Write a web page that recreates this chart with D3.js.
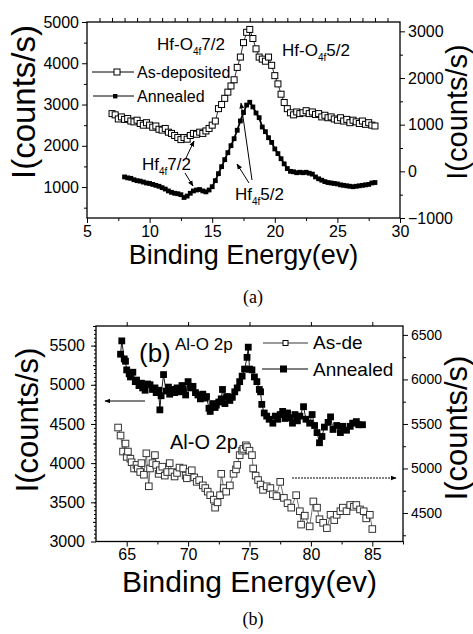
<!DOCTYPE html>
<html>
<head>
<meta charset="utf-8">
<script src="https://cdn.jsdelivr.net/npm/d3@7"></script>
<style>
  body { margin: 0; background: #fff; }
  svg { display: block; font-family: "Liberation Sans", Arial, sans-serif; }
  .axis path { display: none; }
  .axis line { stroke: #000; stroke-width: 1; }
  .axis text { fill: #000; }
</style>
</head>
<body>
<div id="chart"></div>
<script>
// Panel (a): Hf 4f region, As-deposited on left axis, Annealed on right axis
const hfAsDepE = [7.0, 7.25, 7.5, 7.75, 8.0, 8.25, 8.5, 8.75, 9.0, 9.25, 9.5, 9.75, 10.0, 10.25, 10.5, 10.75,
  11.0, 11.25, 11.5, 11.75, 12.0, 12.25, 12.5, 12.75, 13.0, 13.25, 13.5, 13.75, 14.0, 14.25, 14.5, 14.75,
  15.0, 15.25, 15.5, 15.75, 16.0, 16.25, 16.5, 16.75, 17.0, 17.25, 17.5, 17.75, 18.0, 18.25, 18.5, 18.75,
  19.0, 19.25, 19.5, 19.75, 20.0, 20.25, 20.5, 20.75, 21.0, 21.25, 21.5, 21.75, 22.0, 22.25, 22.5, 22.75,
  23.0, 23.25, 23.5, 23.75, 24.0, 24.25, 24.5, 24.75, 25.0, 25.25, 25.5, 25.75, 26.0, 26.25, 26.5, 26.75,
  27.0, 27.25, 27.5, 27.75, 28.0];
const hfAsDepI = [2780, 2750, 2650, 2700, 2640, 2660, 2600, 2580, 2620, 2540, 2500, 2560, 2500, 2450, 2480, 2400,
  2380, 2420, 2330, 2300, 2250, 2200, 2150, 2200, 2160, 2250, 2300, 2280, 2330, 2300, 2360, 2420,
  2500, 2600, 2900, 3000, 3150, 3300, 3450, 3600, 3900, 4150, 4500, 4750, 4820, 4600, 4350, 4150,
  4100, 4050, 4150, 3950, 3700, 3500, 3250, 3050, 2900, 2800, 2750, 2820, 2780, 2800, 2850, 2780,
  2820, 2760, 2780, 2700, 2740, 2680, 2700, 2650, 2620, 2680, 2600, 2640, 2560, 2620, 2580, 2540,
  2600, 2520, 2560, 2500, 2480];

const hfAnnE = [8.0, 8.25, 8.5, 8.75, 9.0, 9.25, 9.5, 9.75, 10.0, 10.25, 10.5, 10.75, 11.0, 11.25, 11.5, 11.75,
  12.0, 12.25, 12.5, 12.75, 13.0, 13.25, 13.5, 13.75, 14.0, 14.25, 14.5, 14.75, 15.0, 15.25, 15.5, 15.75,
  16.0, 16.25, 16.5, 16.75, 17.0, 17.25, 17.5, 17.75, 18.0, 18.25, 18.5, 18.75, 19.0, 19.25, 19.5, 19.75,
  20.0, 20.25, 20.5, 20.75, 21.0, 21.25, 21.5, 21.75, 22.0, 22.25, 22.5, 22.75, 23.0, 23.25, 23.5, 23.75,
  24.0, 24.25, 24.5, 24.75, 25.0, 25.25, 25.5, 25.75, 26.0, 26.25, 26.5, 26.75, 27.0, 27.25, 27.5, 27.75, 28.0];
const hfAnnI = [-120, -140, -150, -180, -200, -210, -230, -250, -260, -280, -300, -320, -350, -380, -420, -450,
  -470, -480, -500, -560, -530, -470, -420, -400, -390, -420, -440, -400, -330, -200, -50, 100,
  250, 400, 550, 700, 880, 1080, 1260, 1420, 1480, 1380, 1250, 1150, 950, 850, 720, 620,
  480, 380, 270, 160, 60, 0, -10, -30, -20, -30, -20, -40, -60, -120, -160, -190,
  -220, -240, -250, -260, -270, -290, -300, -310, -320, -330, -320, -310, -300, -290, -280, -250, -240];

// Panel (b): Al-O 2p region, Annealed on left axis, As-de on right axis
const alAnnE = [64.5, 64.6, 64.8, 64.9, 65.0, 65.2, 65.3, 65.5, 65.7, 65.8, 66.0, 66.2, 66.3, 66.5, 66.7, 66.9,
  67.1, 67.3, 67.4, 67.6, 67.7, 67.8, 68.0, 68.2, 68.4, 68.5, 68.7, 68.9, 69.1, 69.3, 69.5, 69.6,
  69.8, 70.0, 70.2, 70.4, 70.6, 70.8, 71.0, 71.2, 71.4, 71.5, 71.7, 71.8, 72.0, 72.2, 72.3, 72.5,
  72.7, 72.8, 73.0, 73.2, 73.4, 73.6, 73.8, 74.0, 74.2, 74.4, 74.6, 74.8, 74.9, 75.0, 75.2, 75.4,
  75.6, 75.8, 75.9, 76.0, 76.2, 76.4, 76.6, 76.9, 77.1, 77.3, 77.5, 77.7, 77.9, 78.1, 78.3, 78.5,
  78.7, 78.9, 79.1, 79.4, 79.6, 79.9, 80.1, 80.3, 80.5, 80.7, 80.9, 81.1, 81.4, 81.6, 81.8, 82.1,
  82.4, 82.6, 82.9, 83.2, 83.4, 83.7, 83.9, 84.2];
const alAnnI = [5390, 5560, 5330, 5300, 5190, 5140, 5100, 5160, 5040, 5060, 4990, 5020, 4960, 4930, 5010, 5000,
  4940, 4960, 4900, 4930, 4680, 4860, 5130, 4920, 4970, 4880, 4940, 4900, 4960, 4910, 4990, 4950,
  4870, 5040, 4960, 4980, 4900, 4870, 4820, 4880, 4830, 4850, 4700, 4660, 4760, 4710, 4740, 4780,
  4820, 4940, 4760, 4850, 4800, 4840, 4910, 4960, 5040, 5110, 5200, 5350, 5480, 5200, 5190, 5100,
  5040, 4940, 4910, 4750, 4640, 4600, 4560, 4510, 4600, 4560, 4620, 4660, 4570, 4640, 4580, 4510,
  4620, 4540, 4600, 4720, 4560, 4510, 4620, 4480, 4390, 4260, 4340, 4460, 4520, 4590, 4430, 4480,
  4390, 4470, 4420, 4470, 4510, 4530, 4490, 4490];

const alAsDeE = [64.3, 64.5, 64.7, 64.9, 65.0, 65.1, 65.3, 65.4, 65.6, 65.8, 65.9, 66.1, 66.2, 66.4, 66.6, 66.8,
  66.9, 67.1, 67.3, 67.4, 67.6, 67.7, 67.9, 68.1, 68.3, 68.5, 68.7, 68.9, 69.1, 69.3, 69.6, 69.8,
  69.9, 70.1, 70.3, 70.5, 70.7, 70.9, 71.2, 71.4, 71.6, 71.8, 72.1, 72.2, 72.4, 72.6, 72.7, 72.9,
  73.1, 73.4, 73.7, 73.9, 74.0, 74.2, 74.4, 74.5, 74.7, 74.8, 75.0, 75.2, 75.3, 75.5, 75.7, 75.9,
  76.1, 76.4, 76.7, 76.9, 77.2, 77.5, 77.8, 78.1, 78.4, 78.8, 79.1, 79.2, 79.5, 79.9, 80.2, 80.5,
  80.7, 81.0, 81.3, 81.6, 81.9, 82.1, 82.4, 82.6, 82.9, 83.2, 83.5, 83.7, 84.0, 84.3, 84.5, 84.8, 85.0];
const alAsDeI = [5460, 5370, 5190, 5280, 5130, 5190, 5110, 5070, 5000, 5040, 5000, 4960, 5060, 4930, 5170, 4800,
  5000, 5060, 5150, 5040, 4940, 4980, 5020, 4920, 4960, 5060, 4960, 4910, 4950, 5010, 5000, 4920,
  4890, 4960, 4980, 4900, 4850, 4870, 4810, 4780, 4740, 4700, 4650, 4560, 4620, 4700, 4940, 4780,
  4740, 4810, 4940, 4990, 5040, 5150, 5200, 5220, 5260, 5240, 5200, 5150, 5000, 4920, 4870, 4820,
  4760, 4800, 4780, 4710, 4690, 4850, 4670, 4610, 4560, 4700, 4520, 4370, 4470, 4350, 4630, 4560,
  4430, 4390, 4330, 4480, 4420, 4480, 4520, 4560, 4520, 4590, 4570, 4590, 4540, 4520, 4440, 4480, 4320];

// Tick values
const aXTicks = [5, 10, 15, 20, 25, 30];
const aLeftTicks = [1000, 2000, 3000, 4000, 5000];
const aRightTicks = [-1000, 0, 1000, 2000, 3000];
const bXTicks = [65, 70, 75, 80, 85];
const bLeftTicks = [3000, 3500, 4000, 4500, 5000, 5500];
const bRightTicks = [4500, 5000, 5500, 6000, 6500];

const svg = d3.select("#chart").append("svg")
  .attr("width", 473)
  .attr("height", 634);

// arrow head used by the annotations
svg.append("defs").append("marker")
  .attr("id", "head")
  .attr("viewBox", "0 0 10 10")
  .attr("refX", 9).attr("refY", 5)
  .attr("markerWidth", 6).attr("markerHeight", 6)
  .attr("orient", "auto-start-reverse")
  .append("path")
  .attr("d", "M0,1 L10,5 L0,9 Z")
  .attr("fill", "#000");

// draw ticks for one side, major with labels and minor without
function addAxis(axisFn, scale, major, minor, pos, opts) {
  const g = svg.append("g").attr("class", "axis").attr("transform", pos);
  g.call(axisFn(scale).tickValues(minor).tickSize(opts.minorSize || 3).tickFormat(""));
  const m = svg.append("g").attr("class", "axis").attr("transform", pos);
  const ax = axisFn(scale).tickValues(major).tickSize(opts.size || 5).tickPadding(opts.pad || 3);
  ax.tickFormat(opts.label === false ? "" : d3.format("d"));
  m.call(ax);
  m.selectAll("text").style("font-size", (opts.font || 16) + "px");
  return m;
}

function frame(x0, y0, x1, y1) {
  svg.append("rect")
    .attr("x", x0).attr("y", y0)
    .attr("width", x1 - x0).attr("height", y1 - y0)
    .attr("fill", "none").attr("stroke", "#000").attr("stroke-width", 1.3);
}

function arrow(x1, y1, x2, y2, dash) {
  svg.append("line")
    .attr("x1", x1).attr("y1", y1).attr("x2", x2).attr("y2", y2)
    .attr("stroke", "#000").attr("stroke-width", 1)
    .attr("stroke-dasharray", dash || null)
    .attr("marker-end", "url(#head)");
}

// ---------- panel (a) ----------
const xA = d3.scaleLinear().domain([5, 30]).range([87, 400]);
const yAL = d3.scaleLinear().domain([250, 5000]).range([218, 22]);
const yAR = d3.scaleLinear().domain([-1000, 3200]).range([218, 22]);

addAxis(d3.axisBottom, xA, aXTicks, [7.5, 12.5, 17.5, 22.5, 27.5], "translate(0,218)", {size: 5, font: 16, pad: 3});
addAxis(d3.axisBottom, xA, [], d3.range(6, 30), "translate(0,22)", {minorSize: -4, label: false});
addAxis(d3.axisLeft, yAL, aLeftTicks, [500, 1500, 2500, 3500, 4500], "translate(87,0)", {size: 5, font: 16});
addAxis(d3.axisRight, yAR, aRightTicks, [-500, 500, 1500, 2500], "translate(400,0)", {size: 5, font: 16});
frame(87, 22, 400, 218);

const lineA = d3.line();
const asDepA = hfAsDepE.map((e, i) => [xA(e), yAL(hfAsDepI[i])]);
const annA = hfAnnE.map((e, i) => [xA(e), yAR(hfAnnI[i])]);

svg.append("path").attr("d", lineA(asDepA)).attr("fill", "none").attr("stroke", "#000").attr("stroke-width", 0.8);
svg.append("path").attr("d", lineA(annA)).attr("fill", "none").attr("stroke", "#000").attr("stroke-width", 1.8);

svg.selectAll(".asdepA").data(asDepA).enter().append("rect")
  .attr("x", d => d[0] - 3).attr("y", d => d[1] - 3)
  .attr("width", 6).attr("height", 6)
  .attr("fill", "#fff").attr("stroke", "#000").attr("stroke-width", 1);
svg.selectAll(".annA").data(annA).enter().append("rect")
  .attr("x", d => d[0] - 2.4).attr("y", d => d[1] - 2.4)
  .attr("width", 4.8).attr("height", 4.8)
  .attr("fill", "#000");

// legend (a)
svg.append("line").attr("x1", 92).attr("x2", 134).attr("y1", 72).attr("y2", 72).attr("stroke", "#000");
svg.append("rect").attr("x", 114).attr("y", 69).attr("width", 6).attr("height", 6).attr("fill", "#fff").attr("stroke", "#000");
svg.append("text").attr("x", 137).attr("y", 78).style("font-size", "16px").text("As-deposited");
svg.append("line").attr("x1", 93).attr("x2", 134).attr("y1", 96).attr("y2", 96).attr("stroke", "#000");
svg.append("rect").attr("x", 113).attr("y", 94).attr("width", 4.4).attr("height", 4.4).attr("fill", "#000");
svg.append("text").attr("x", 137).attr("y", 102).style("font-size", "16px").text("Annealed");

// peak labels with subscript 4f
function peakLabel(x, y, pre, post) {
  const t = svg.append("text").attr("x", x).attr("y", y).style("font-size", "17px");
  t.append("tspan").text(pre);
  t.append("tspan").attr("dy", 5).style("font-size", "10px").text("4f");
  t.append("tspan").attr("dy", -5).text(post);
}
peakLabel(157, 50, "Hf-O", "7/2");
peakLabel(282, 56, "Hf-O", "5/2");
peakLabel(142, 170, "Hf", "7/2");
peakLabel(235, 200, "Hf", "5/2");

arrow(186, 158, 194, 141);
arrow(185, 173, 193, 186);
arrow(252, 180, 241, 103);
arrow(249, 183, 237, 164);

svg.append("text").attr("x", (87 + 400) / 2).attr("y", 264).attr("text-anchor", "middle")
  .style("font-size", "27px").text("Binding Energy(ev)");
svg.append("text").attr("transform", "translate(35,102) rotate(-90)").attr("text-anchor", "middle")
  .style("font-size", "33px").text("I(counts/s)");
svg.append("text").attr("transform", "translate(467,112) rotate(-90)").attr("text-anchor", "middle")
  .style("font-size", "29px").text("I(counts/s)");
svg.append("text").attr("x", 253).attr("y", 303).attr("text-anchor", "middle")
  .style("font-family", "'Liberation Serif', 'Times New Roman', serif").style("font-size", "18px").text("(a)");

// ---------- panel (b) ----------
const xB = d3.scaleLinear().domain([62.5, 87.5]).range([96, 403]);
const yBL = d3.scaleLinear().domain([3000, 5750]).range([541.5, 326]);
const yBR = d3.scaleLinear().domain([4180, 6600]).range([541.5, 326]);

addAxis(d3.axisBottom, xB, bXTicks, [67.5, 72.5, 77.5, 82.5, 87.5], "translate(0,541.5)", {size: 5, font: 16, pad: 2});
addAxis(d3.axisBottom, xB, [], bXTicks, "translate(0,326)", {minorSize: -4, label: false});
addAxis(d3.axisLeft, yBL, bLeftTicks, [3250, 3750, 4250, 4750, 5250, 5750], "translate(96,0)", {size: 5, font: 16, pad: 6});
addAxis(d3.axisLeft, yBL, [], d3.range(3050, 5750, 50), "translate(96,0)", {minorSize: 2, label: false});
addAxis(d3.axisRight, yBR, bRightTicks, [4250, 4750, 5250, 5750, 6250], "translate(403,0)", {size: 5, font: 14});
frame(96, 326, 403, 541.5);

const annB = alAnnE.map((e, i) => [xB(e), yBL(alAnnI[i])]);
const asDeB = alAsDeE.map((e, i) => [xB(e), yBR(alAsDeI[i])]);

svg.append("path").attr("d", lineA(asDeB)).attr("fill", "none").attr("stroke", "#333").attr("stroke-width", 0.7);
svg.append("path").attr("d", lineA(annB)).attr("fill", "none").attr("stroke", "#000").attr("stroke-width", 0.9);

svg.selectAll(".asdeB").data(asDeB).enter().append("rect")
  .attr("x", d => d[0] - 3.3).attr("y", d => d[1] - 3.3)
  .attr("width", 6.6).attr("height", 6.6)
  .attr("fill", "#fff").attr("stroke", "#333").attr("stroke-width", 1);
svg.selectAll(".annB").data(annB).enter().append("rect")
  .attr("x", d => d[0] - 3.4).attr("y", d => d[1] - 3.4)
  .attr("width", 6.8).attr("height", 6.8)
  .attr("fill", "#000");

// legend (b)
svg.append("line").attr("x1", 263).attr("x2", 308).attr("y1", 343).attr("y2", 343).attr("stroke", "#000").attr("stroke-width", 0.8);
svg.append("rect").attr("x", 283).attr("y", 340.5).attr("width", 5).attr("height", 5).attr("fill", "#fff").attr("stroke", "#000");
svg.append("text").attr("x", 313).attr("y", 349).style("font-size", "19px").text("As-de");
svg.append("line").attr("x1", 262).attr("x2", 308).attr("y1", 369).attr("y2", 369).attr("stroke", "#000").attr("stroke-width", 1.2);
svg.append("rect").attr("x", 280).attr("y", 365.5).attr("width", 7).attr("height", 7).attr("fill", "#000");
svg.append("text").attr("x", 313).attr("y", 376).style("font-size", "19px").text("Annealed");

svg.append("text").attr("x", 139).attr("y", 362).style("font-size", "26px").text("(b)");
svg.append("text").attr("x", 175).attr("y", 350).style("font-size", "17px").text("Al-O 2p");
svg.append("text").attr("x", 170).attr("y", 449).style("font-size", "20px").text("Al-O 2p");

arrow(145, 401, 105, 401);
arrow(292, 478, 396, 478, "2,1");

svg.append("text").attr("x", (96 + 403) / 2).attr("y", 592).attr("text-anchor", "middle")
  .style("font-size", "30px").text("Binding Energy(ev)");
svg.append("text").attr("transform", "translate(38,420) rotate(-90)").attr("text-anchor", "middle")
  .style("font-size", "31px").text("I(counts/s)");
svg.append("text").attr("transform", "translate(467,428) rotate(-90)").attr("text-anchor", "middle")
  .style("font-size", "31px").text("I(counts/s)");
svg.append("text").attr("x", 253).attr("y", 625).attr("text-anchor", "middle")
  .style("font-family", "'Liberation Serif', 'Times New Roman', serif").style("font-size", "18px").text("(b)");
</script>
</body>
</html>
